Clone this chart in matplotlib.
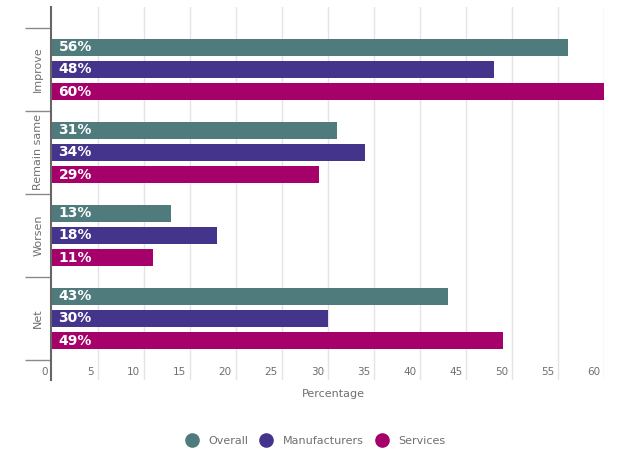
import matplotlib
matplotlib.use("Agg")
import matplotlib.pyplot as plt
import matplotlib.transforms as mtransforms
from matplotlib.lines import Line2D
import numpy as np

# survey outlook by sector, percent of respondents
categories = ["Improve", "Remain same", "Worsen", "Net"]
series = ["Overall", "Manufacturers", "Services"]
overall = [56, 31, 13, 43]
manufacturers = [48, 34, 18, 30]
services = [60, 29, 11, 49]
x_ticks = list(range(0, 65, 5))

colors = ["#4f7b7c", "#44348c", "#a6006a"]
text_gray = "#6f6f6f"

fig = plt.figure(figsize=(6.21, 4.5), dpi=100)
ax = fig.add_axes([0.0829, 0.1556, 0.8905, 0.8289])

centers = np.arange(len(categories)) + 0.5
offsets = [-0.27, 0.0, 0.27]
bar_h = 0.205

for vals, off, col in zip([overall, manufacturers, services], offsets, colors):
    ys = centers + off
    ax.barh(ys, vals, height=bar_h, color=col, zorder=2)
    for y, v in zip(ys, vals):
        ax.annotate(f"{v}%", xy=(0, y), xytext=(5, 0), textcoords="offset points",
                    ha="left", va="center", color="white", fontsize=10,
                    fontweight="bold", zorder=3)

ax.set_xlim(0, 60)
ax.set_ylim(4.241, -0.253)

# vertical grid, running down through the tick labels
for t in x_ticks[1:]:
    ax.axvline(t, color="#e4e4e4", linewidth=1, zorder=0)

# x tick labels sit just left of their gridline
trans = mtransforms.offset_copy(ax.transData, fig=fig, x=-4, y=0, units="dots")
for t in x_ticks:
    ax.text(t, 4.15, str(t), transform=trans, ha="right", va="center",
            fontsize=7.5, color=text_gray)
ax.tick_params(axis="x", length=0, labelbottom=False)

# group separators as long outward ticks, category names in between
ax.set_yticks(np.arange(len(categories) + 1))
ax.set_yticklabels([])
ax.tick_params(axis="y", which="major", length=19, width=1, color="#8a8a8a")
ax.set_yticks(centers, minor=True)
ax.set_yticklabels(categories, minor=True, rotation=90, va="center",
                   fontsize=8, color=text_gray)
ax.tick_params(axis="y", which="minor", length=0, pad=6)

for s in ["top", "right", "bottom"]:
    ax.spines[s].set_visible(False)
ax.spines["left"].set_color("#666666")
ax.spines["left"].set_linewidth(1.5)
ax.spines["left"].set_zorder(4)

fig.text(333 / 621, 1 - 394 / 450, "Percentage", ha="center", va="center",
         fontsize=8, color=text_gray)

handles = [Line2D([], [], marker="o", linestyle="", markersize=9.5,
                  markerfacecolor=c, markeredgecolor=c) for c in colors]
fig.legend(handles, series, loc="center", bbox_to_anchor=(316 / 621, 1 - 441 / 450),
           ncol=3, frameon=False, fontsize=8, labelcolor=text_gray,
           handlelength=1.0, handletextpad=1.0, columnspacing=1.1)

fig.savefig("out.png", dpi=100)
